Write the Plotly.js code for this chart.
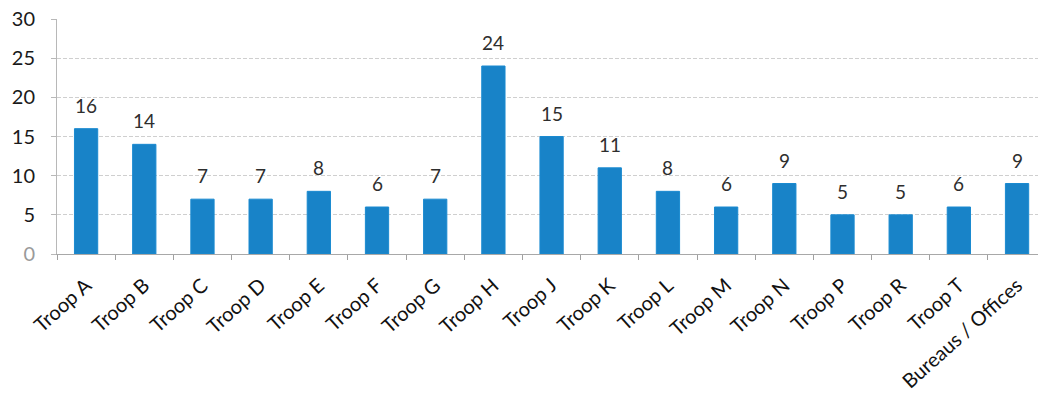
<!DOCTYPE html>
<html>
<head>
<meta charset="utf-8">
<script src="https://cdn.plot.ly/plotly-3.0.1.min.js"></script>
<style>
  html, body { margin: 0; padding: 0; background: #fff; }
  #chart { width: 1038px; height: 397px; }
</style>
</head>
<body>
<div id="chart"></div>
<script>
// Headcount per troop / unit
const units = ["Troop A", "Troop B", "Troop C", "Troop D", "Troop E", "Troop F", "Troop G",
  "Troop H", "Troop J", "Troop K", "Troop L", "Troop M", "Troop N", "Troop P", "Troop R",
  "Troop T", "Bureaus / Offices"];
const counts = [16, 14, 7, 7, 8, 6, 7, 24, 15, 11, 8, 6, 9, 5, 5, 6, 9];
const yTicks = [0, 5, 10, 15, 20, 25, 30];

const fontFamily = "Lato, 'Open Sans', sans-serif";

const trace = {
  type: "bar",
  x: units,
  y: counts,
  width: 0.4,
  marker: { color: "#1883c8", line: { color: "#1a8ad0", width: 1 } },
  hoverinfo: "x+y"
};

// value labels sit a little above each bar top
const valueLabels = units.map((u, i) => ({
  x: u,
  y: counts[i],
  xref: "x",
  yref: "y",
  text: String(counts[i]),
  showarrow: false,
  yanchor: "bottom",
  yshift: 10,
  font: { family: fontFamily, size: 19, color: "#2e2e2e" }
}));

const layout = {
  width: 1038,
  height: 397,
  margin: { l: 57, r: 0, t: 19, b: 143 },
  paper_bgcolor: "#ffffff",
  plot_bgcolor: "#ffffff",
  showlegend: false,
  font: { family: fontFamily, color: "#1a1a1a" },
  annotations: valueLabels,
  xaxis: {
    type: "category",
    range: [-0.5, 16.36],
    tickangle: -42,
    tickfont: { size: 20, color: "#111" },
    ticklabelstandoff: 11,
    tickson: "boundaries",
    ticks: "outside",
    ticklen: 5,
    tickcolor: "#a0a0a0",
    showline: true,
    linecolor: "#a8a8a8",
    linewidth: 1,
    showgrid: false,
    automargin: false
  },
  yaxis: {
    range: [0, 30],
    tickvals: yTicks,
    ticktext: yTicks.map(v => v === 0 ? "<span style='color:#9a9a9a'>0</span>" : String(v)),
    tickfont: { size: 20, color: "#1a1a1a" },
    ticklabelstandoff: 12,
    ticks: "outside",
    ticklen: 5,
    tickcolor: "#b8b8b8",
    showline: true,
    linecolor: "#b8b8b8",
    showgrid: true,
    gridcolor: "#cfcfcf",
    gridwidth: 1,
    griddash: "4px,2px",
    zeroline: false,
    automargin: false
  }
};

Plotly.newPlot("chart", [trace], layout, { displayModeBar: false, staticPlot: true });
</script>
</body>
</html>
